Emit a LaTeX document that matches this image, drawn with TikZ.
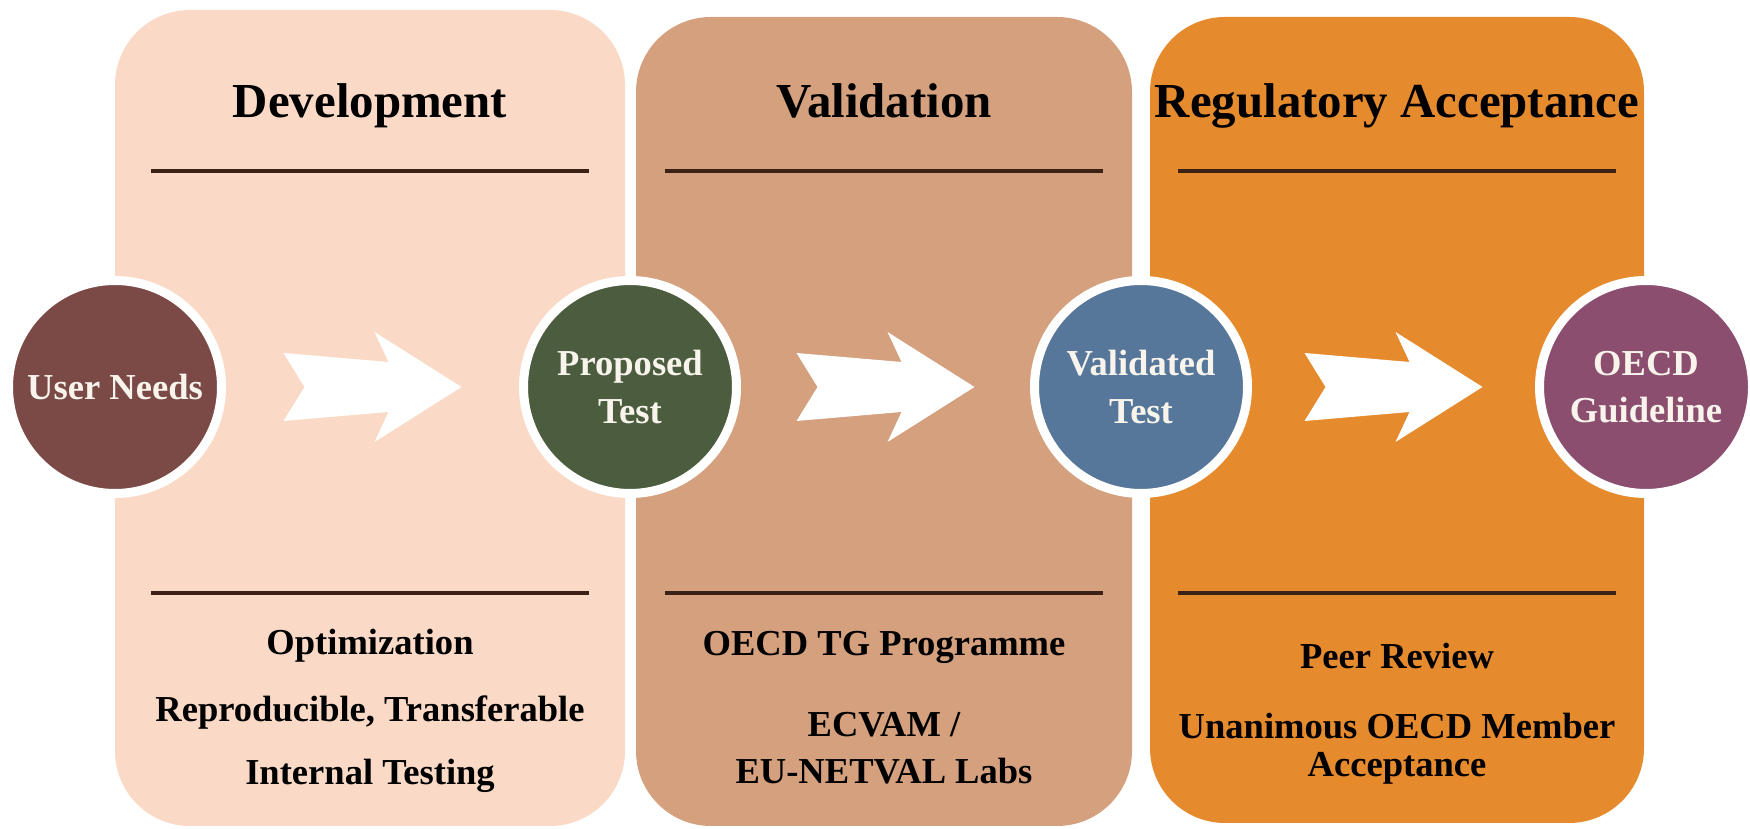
\documentclass[tikz,border=0pt]{standalone}
\usepackage{fontspec}
\setmainfont{Liberation Serif}
\usepackage{xcolor}
\usepackage{tikz}
\usetikzlibrary{calc}

\definecolor{devfill}{HTML}{FADAC6}
\definecolor{valfill}{HTML}{D4A07D}
\definecolor{regfill}{HTML}{E68A2E}
\definecolor{usercol}{HTML}{7B4A47}
\definecolor{propcol}{HTML}{4B5D3E}
\definecolor{validcol}{HTML}{56779A}
\definecolor{oecdcol}{HTML}{8B4E6E}
\definecolor{rulecol}{HTML}{3B2116}
\definecolor{stagetext}{HTML}{F8F4EC}

\tikzset{
    fatarrow/.pic={
        \fill[white] (-0.89,0.34) -- (0.16,0.25) -- (0.02,0.55) -- (0.89,0)
            -- (0.02,-0.55) -- (0.16,-0.25) -- (-0.89,-0.34) -- (-0.68,0) -- cycle;
    }
}

\begin{document}
\begin{tikzpicture}[
    stage/.style={circle, draw=white, line width=0.9mm, minimum size=2.13cm, inner sep=0pt,
        font=\fontsize{10.4}{13.4}\selectfont\bfseries, text=stagetext, align=center},
    title/.style={anchor=base, font=\fontsize{13.9}{16}\selectfont\bfseries},
    item/.style={anchor=base, font=\fontsize{10.4}{12.5}\selectfont\bfseries},
    divider/.style={draw=rulecol, line width=1.2pt}
]
\useasboundingbox (0,0) rectangle (17.5,8.29);

% Phase panels
\fill[devfill, rounded corners=0.75cm] (1.15,0.03) rectangle (6.25,8.19);
\fill[valfill, rounded corners=0.75cm] (6.36,0.03) rectangle (11.32,8.12);
\fill[regfill, rounded corners=0.75cm] (11.50,0.06) rectangle (16.44,8.12);

% Titles
\node[title] (devtitle) at (3.70,7.11) {Development};
\node[title] (valtitle) at (8.84,7.11) {Validation};
\node[title] (regtitle) at (13.97,7.11) {Regulatory Acceptance};

% Dividers
\draw[divider] (1.51,6.58) -- (5.89,6.58);
\draw[divider] (6.65,6.58) -- (11.03,6.58);
\draw[divider] (11.78,6.58) -- (16.16,6.58);
\draw[divider] (1.51,2.36) -- (5.89,2.36);
\draw[divider] (6.65,2.36) -- (11.03,2.36);
\draw[divider] (11.78,2.36) -- (16.16,2.36);

% Development items
\node[item] (optim) at (3.70,1.74) {Optimization};
\node[item] (repro) at (3.70,1.07) {Reproducible, Transferable};
\node[item] (internal) at (3.70,0.44) {Internal Testing};

% Validation items
\node[item] (tgprog) at (8.84,1.73) {OECD TG Programme};
\node[item] (ecvam) at (8.84,0.92) {ECVAM /};
\node[item] (netval) at (8.84,0.45) {EU-NETVAL Labs};

% Acceptance items
\node[item] (peer) at (13.97,1.60) {Peer Review};
\node[item] (member) at (13.97,0.90) {Unanimous OECD Member};
\node[item] (accept) at (13.97,0.52) {Acceptance};

% Stages
\node[stage, fill=usercol] (user) at (1.15,4.42) {User Needs};
\node[stage, fill=propcol] (proposed) at (6.30,4.42) {Proposed\\Test};
\node[stage, fill=validcol] (validated) at (11.41,4.42) {Validated\\Test};
\node[stage, fill=oecdcol] (oecd) at (16.46,4.42) {OECD\\Guideline};

% Arrows between stages
\pic at ($(user)!0.5!(proposed)$) {fatarrow};
\pic at ($(proposed)!0.5!(validated)$) {fatarrow};
\pic at ($(validated)!0.5!(oecd)$) {fatarrow};

\end{tikzpicture}
\end{document}
